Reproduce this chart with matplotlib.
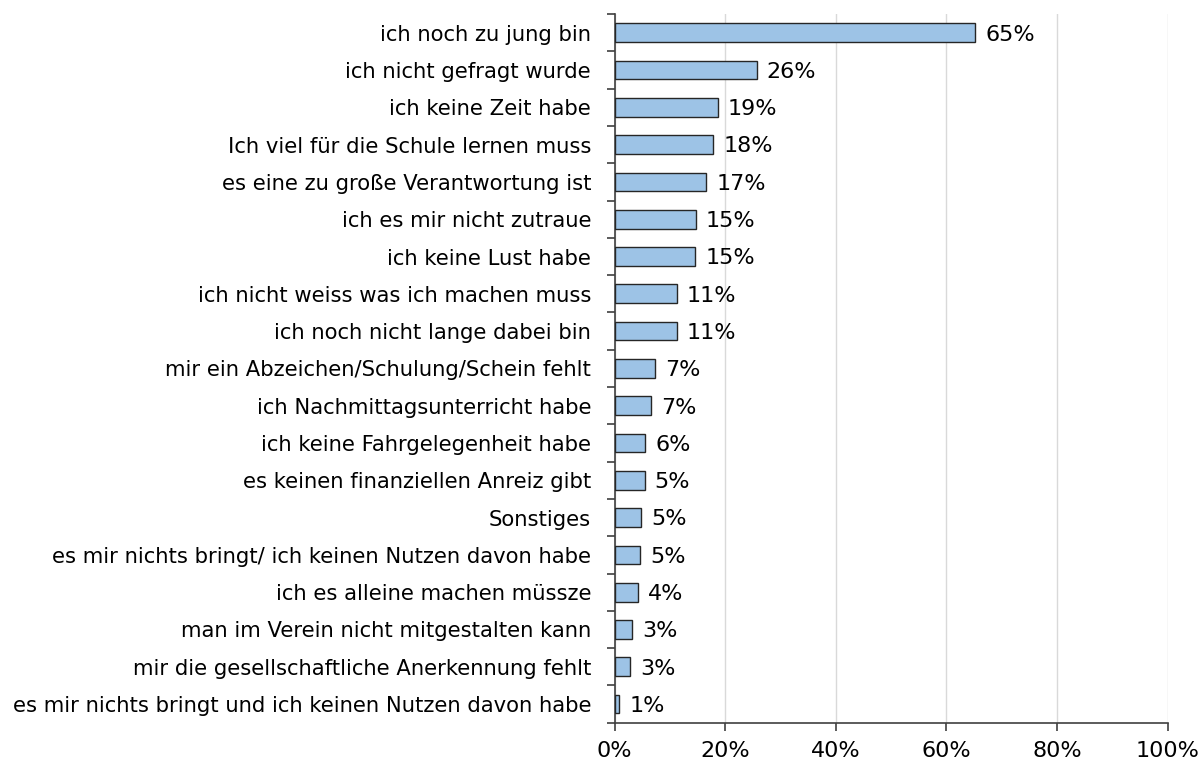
import matplotlib
matplotlib.use("Agg")
import matplotlib.pyplot as plt
from matplotlib.ticker import FixedLocator

# Antworten (von oben nach unten) und Anteile in Prozent
categories = [
    "ich noch zu jung bin",
    "ich nicht gefragt wurde",
    "ich keine Zeit habe",
    "Ich viel für die Schule lernen muss",
    "es eine zu große Verantwortung ist",
    "ich es mir nicht zutraue",
    "ich keine Lust habe",
    "ich nicht weiss was ich machen muss",
    "ich noch nicht lange dabei bin",
    "mir ein Abzeichen/Schulung/Schein fehlt",
    "ich Nachmittagsunterricht habe",
    "ich keine Fahrgelegenheit habe",
    "es keinen finanziellen Anreiz gibt",
    "Sonstiges",
    "es mir nichts bringt/ ich keinen Nutzen davon habe",
    "ich es alleine machen müssze",
    "man im Verein nicht mitgestalten kann",
    "mir die gesellschaftliche Anerkennung fehlt",
    "es mir nichts bringt und ich keinen Nutzen davon habe",
]
values = [65.2, 25.7, 18.7, 17.8, 16.6, 14.7, 14.6, 11.2, 11.2, 7.3,
          6.6, 5.5, 5.4, 4.8, 4.6, 4.3, 3.1, 2.8, 0.8]
labels = ["65%", "26%", "19%", "18%", "17%", "15%", "15%", "11%", "11%", "7%",
          "7%", "6%", "5%", "5%", "5%", "4%", "3%", "3%", "1%"]
xticks = [0, 20, 40, 60, 80, 100]

plt.rcParams["font.family"] = ["DejaVu Sans"]

fig = plt.figure(figsize=(12.02, 7.64), dpi=100)
ax = fig.add_axes([0.5114, 0.054, 0.46, 0.9276])

n = len(categories)
ypos = list(range(n))
ax.barh(ypos, values, height=0.5, color="#9DC3E6", edgecolor="#262626",
        linewidth=1.0, zorder=3)

for y, v, lab in zip(ypos, values, labels):
    ax.text(v + 1.8, y + 0.05, lab, va="center", ha="left", fontsize=16,
            color="black")

ax.set_xlim(0, 100)
ax.set_ylim(n - 0.5, -0.5)

ax.set_xticks(xticks)
ax.set_xticklabels([f"{t}%" for t in xticks], fontsize=16)
ax.set_yticks(ypos)
ax.set_yticklabels(categories, fontsize=15.2)
ax.tick_params(axis="y", which="major", length=0, pad=17)
ax.yaxis.set_minor_locator(FixedLocator([i - 0.5 for i in range(n + 1)]))
ax.tick_params(axis="y", which="minor", length=6, width=1.2, color="#404040")
ax.tick_params(axis="x", length=6, width=1.2, color="#404040", pad=7)

ax.grid(axis="x", color="#D9D9D9", linewidth=1.0, zorder=0)
for s in ["top", "right"]:
    ax.spines[s].set_visible(False)
ax.spines["left"].set_color("#404040")
ax.spines["bottom"].set_color("#404040")
ax.spines["left"].set_linewidth(1.2)
ax.spines["bottom"].set_linewidth(1.2)

fig.savefig("out.png", dpi=100)
